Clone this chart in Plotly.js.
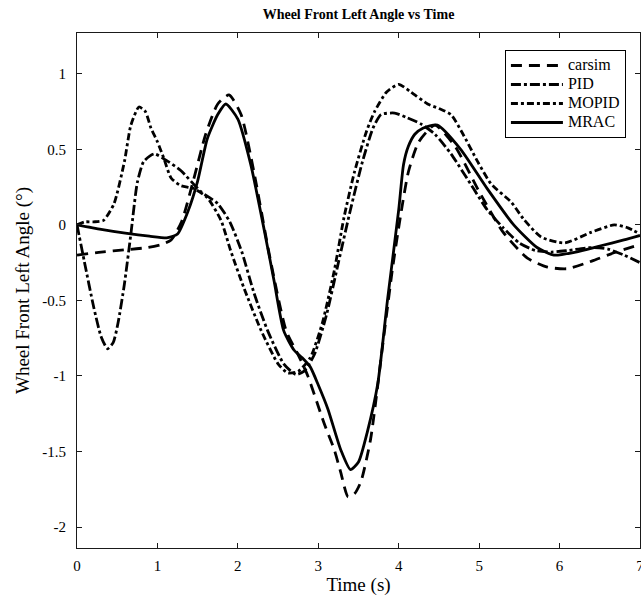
<!DOCTYPE html>
<html>
<head>
<meta charset="utf-8">
<script src="https://cdn.plot.ly/plotly-3.0.1.min.js"></script>
<style>
  html, body { margin: 0; padding: 0; background: #fff; }
  #chart { width: 641px; height: 608px; }
</style>
</head>
<body>
<div id="chart"></div>
<script>
// ---- data ----
const seriesNames = ["carsim", "PID", "MOPID", "MRAC"];

const carsimT = [0, 0.3, 0.6, 0.88, 1.05, 1.17, 1.3, 1.45, 1.6, 1.75, 1.89, 2.04, 2.2, 2.4, 2.6, 2.75, 2.87, 3.07, 3.2, 3.28, 3.37, 3.45, 3.53, 3.65, 3.8, 3.92, 4.02, 4.12, 4.25, 4.45, 4.7, 5.0, 5.3, 5.6, 5.85, 6.1, 6.4, 6.7, 7.0];
const carsimY = [-0.2, -0.18, -0.165, -0.15, -0.13, -0.1, 0.02, 0.3, 0.6, 0.8, 0.86, 0.73, 0.35, -0.22, -0.7, -0.86, -1.0, -1.31, -1.49, -1.64, -1.8, -1.78, -1.7, -1.42, -0.8, -0.3, 0.05, 0.35, 0.55, 0.66, 0.52, 0.22, -0.05, -0.22, -0.28, -0.29, -0.24, -0.18, -0.13];

const pidT = [0, 0.09, 0.21, 0.3, 0.38, 0.45, 0.51, 0.59, 0.67, 0.75, 0.83, 0.96, 1.13, 1.29, 1.54, 1.75, 1.9, 2.05, 2.2, 2.37, 2.57, 2.72, 2.82, 2.95, 3.1, 3.25, 3.4, 3.55, 3.68, 3.78, 3.95, 4.1, 4.27, 4.45, 4.65, 4.93, 5.1, 5.3, 5.5, 5.7, 5.9, 6.1, 6.4, 6.6, 6.8, 7.0];
const pidY = [0, -0.24, -0.55, -0.74, -0.82, -0.78, -0.65, -0.39, -0.06, 0.28, 0.42, 0.47, 0.42, 0.36, 0.22, 0.14, 0.02, -0.18, -0.45, -0.7, -0.92, -0.99, -0.97, -0.86, -0.6, -0.25, 0.1, 0.42, 0.64, 0.73, 0.74, 0.71, 0.67, 0.6, 0.47, 0.24, 0.1, -0.02, -0.12, -0.17, -0.18, -0.17, -0.15, -0.16, -0.2, -0.25];

const mopidT = [0, 0.1, 0.21, 0.33, 0.46, 0.59, 0.67, 0.77, 0.85, 0.92, 1.0, 1.08, 1.17, 1.29, 1.45, 1.62, 1.79, 1.91, 2.07, 2.29, 2.5, 2.62, 2.75, 2.9, 3.05, 3.2, 3.32, 3.45, 3.6, 3.7, 3.85, 4.0, 4.15, 4.36, 4.5, 4.65, 4.8, 4.98, 5.15, 5.4, 5.55, 5.77, 6.06, 6.39, 6.68, 6.85, 7.0];
const mopidY = [0, 0.02, 0.02, 0.03, 0.14, 0.42, 0.66, 0.78, 0.75, 0.64, 0.55, 0.44, 0.31, 0.26, 0.24, 0.18, 0.03, -0.17, -0.41, -0.7, -0.92, -0.98, -0.97, -0.88, -0.65, -0.3, 0.05, 0.35, 0.62, 0.75, 0.88, 0.93, 0.88, 0.8, 0.77, 0.73, 0.6, 0.42, 0.27, 0.15, 0.04, -0.08, -0.12, -0.05, 0.0, -0.02, -0.06];

const mracT = [0, 0.3, 0.6, 0.9, 1.13, 1.25, 1.38, 1.5, 1.62, 1.75, 1.85, 2.0, 2.16, 2.33, 2.45, 2.57, 2.7, 2.8, 2.9, 3.0, 3.12, 3.28, 3.4, 3.5, 3.61, 3.74, 3.86, 4.0, 4.06, 4.12, 4.2, 4.3, 4.48, 4.77, 5.1, 5.43, 5.72, 5.93, 6.2, 6.5, 6.8, 7.0];
const mracY = [0, -0.03, -0.055, -0.075, -0.085, -0.06, 0.09, 0.29, 0.57, 0.73, 0.8, 0.7, 0.4, -0.04, -0.37, -0.7, -0.83, -0.88, -0.94, -1.06, -1.22, -1.49, -1.62, -1.57, -1.37, -1.05, -0.5, 0.1, 0.4, 0.52, 0.6, 0.64, 0.66, 0.5, 0.24, 0.0, -0.15, -0.2, -0.18, -0.14, -0.1, -0.07];

const xTickVals = [0, 1, 2, 3, 4, 5, 6, 7];
const xTickText = ["0", "1", "2", "3", "4", "5", "6", "7"];
const yTickVals = [-2, -1.5, -1, -0.5, 0, 0.5, 1];
const yTickText = ["-2", "-1.5", "-1", "-0.5", "0", "0.5", "1"];

// ---- styles ----
const FONT = "Liberation Serif, Times New Roman, serif";
const LW = 2.8;
function tr(name, x, y, dash) {
  return {
    type: "scatter", mode: "lines",
    name: '<span style="font-size:16px">' + name + '</span>',
    x: x, y: y,
    line: { color: "#000", width: LW, dash: dash, shape: "spline", smoothing: 0.6 }
  };
}
const data = [
  tr(seriesNames[0], carsimT, carsimY, "11px,7px"),
  tr(seriesNames[1], pidT, pidY, "10px,3px,3px,3px"),
  tr(seriesNames[2], mopidT, mopidY, "7px,3px,3px,3px"),
  tr(seriesNames[3], mracT, mracY, "solid")
];

const axisCommon = {
  showline: true, linecolor: "#1a1a1a", linewidth: 1, mirror: "ticks",
  ticks: "inside", ticklen: 5, tickcolor: "#1a1a1a", tickwidth: 1,
  showgrid: false, zeroline: false, ticklabeloverflow: "allow",
  tickfont: { family: FONT, size: 15, color: "#000" }
};

const layout = {
  width: 641, height: 608,
  paper_bgcolor: "#fff", plot_bgcolor: "#fff",
  margin: { l: 77, r: 1, t: 33, b: 60 },
  font: { family: FONT, color: "#000" },
  title: {
    text: "<b>Wheel Front Left Angle vs Time</b>",
    font: { family: FONT, size: 14, color: "#000" },
    xref: "paper", x: 0.5, xanchor: "center",
    yref: "container", y: 0.977, yanchor: "middle"
  },
  xaxis: Object.assign({}, axisCommon, {
    range: [0, 7], tickmode: "array", tickvals: xTickVals, ticktext: xTickText,
    ticklabelstandoff: 4,
    title: { text: "Time (s)", font: { family: FONT, size: 19, color: "#000" }, standoff: 4 }
  }),
  yaxis: Object.assign({}, axisCommon, {
    range: [-2.139, 1.27], tickmode: "array", tickvals: yTickVals, ticktext: yTickText,
    ticklabelstandoff: 7,
    title: { text: "Wheel Front Left Angle (°)", font: { family: FONT, size: 19, color: "#000" }, standoff: 7 }
  }),
  showlegend: true,
  legend: {
    x: 0.975, xanchor: "right", y: 0.967, yanchor: "top",
    bgcolor: "#fff", bordercolor: "#000", borderwidth: 1,
    font: { family: FONT, size: 12.3, color: "#000" },
    itemwidth: 52, tracegroupgap: 0
  }
};

Plotly.newPlot("chart", data, layout, { displayModeBar: false, staticPlot: true });
</script>
</body>
</html>
